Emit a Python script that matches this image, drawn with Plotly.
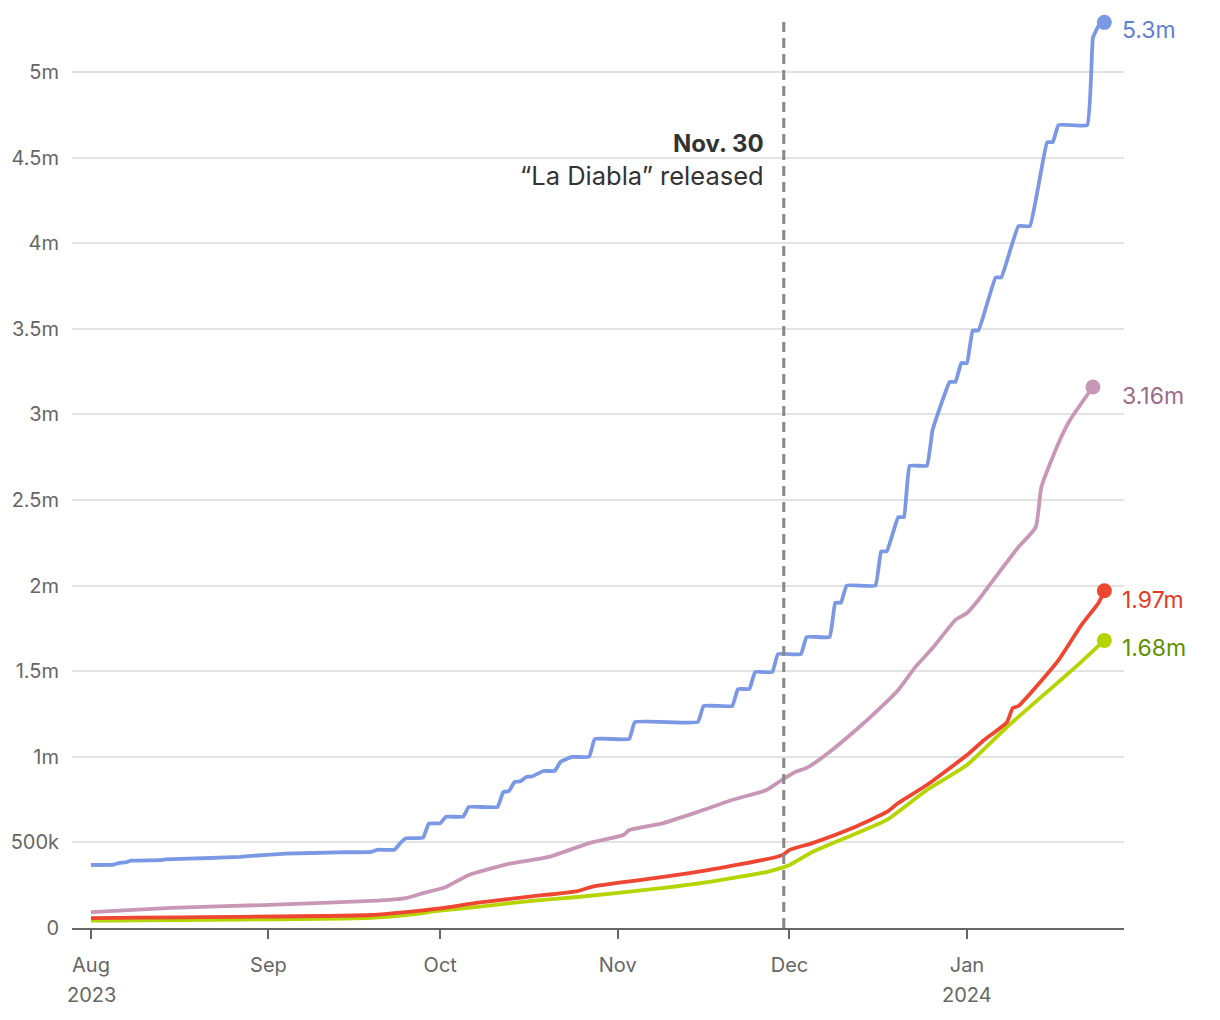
import plotly.graph_objects as go

# ---------------- data ----------------
blue_dates = ["2023-08-01","2023-08-05","2023-08-06","2023-08-07","2023-08-08","2023-08-13","2023-08-14",
              "2023-08-22","2023-08-27","2023-08-31","2023-09-04","2023-09-13","2023-09-19","2023-09-20",
              "2023-09-23","2023-09-24","2023-09-25","2023-09-28","2023-09-29","2023-10-01","2023-10-02",
              "2023-10-05","2023-10-06","2023-10-11","2023-10-12","2023-10-13","2023-10-14","2023-10-15",
              "2023-10-16","2023-10-17","2023-10-19","2023-10-21","2023-10-22","2023-10-24","2023-10-27",
              "2023-10-28","2023-11-03","2023-11-04","2023-11-15","2023-11-16","2023-11-21","2023-11-22",
              "2023-11-24","2023-11-25","2023-11-28","2023-11-29","2023-12-03","2023-12-04","2023-12-08",
              "2023-12-09","2023-12-10","2023-12-11","2023-12-16","2023-12-17","2023-12-18","2023-12-20",
              "2023-12-21","2023-12-22","2023-12-25","2023-12-26","2023-12-29","2023-12-30","2023-12-31",
              "2024-01-01","2024-01-02","2024-01-03","2024-01-06","2024-01-07","2024-01-10","2024-01-12",
              "2024-01-15","2024-01-16","2024-01-17","2024-01-22","2024-01-23","2024-01-24","2024-01-25"]
blue_values = [368000,370000,381000,383000,393000,396000,401000,409000,416000,426000,434000,442000,445000,
               457000,457000,495000,524000,527000,610000,612000,650000,650000,707000,707000,794000,800000,
               853000,857000,882000,885000,917000,918000,970000,999000,1000000,1104000,1104000,1203000,
               1203000,1297000,1297000,1396000,1396000,1495000,1495000,1600000,1600000,1700000,1700000,
               1900000,1900000,2000000,2000000,2200000,2200000,2400000,2400000,2700000,2700000,2910000,
               3190000,3190000,3300000,3300000,3490000,3490000,3800000,3800000,4100000,4100000,4590000,
               4590000,4690000,4690000,5200000,5270000,5290000]

pink_dates = ["2023-08-01","2023-08-15","2023-08-31","2023-09-19","2023-09-25","2023-09-28","2023-10-02",
              "2023-10-06","2023-10-13","2023-10-20","2023-10-27","2023-11-02","2023-11-03","2023-11-09",
              "2023-11-15","2023-11-21","2023-11-27","2023-11-29","2023-12-02","2023-12-04","2023-12-08",
              "2023-12-13","2023-12-17","2023-12-20","2023-12-23","2023-12-26","2023-12-30","2024-01-01",
              "2024-01-03","2024-01-06","2024-01-10","2024-01-13","2024-01-14","2024-01-17","2024-01-19",
              "2024-01-23"]
pink_values = [93000,117000,134000,158000,175000,204000,240000,310000,375000,415000,496000,543000,572000,
               613000,678000,748000,806000,850000,911000,935000,1028000,1168000,1290000,1390000,1525000,
               1635000,1800000,1840000,1916000,2050000,2225000,2340000,2576000,2833000,2967000,3160000]

red_dates = ["2023-08-01","2023-09-19","2023-09-25","2023-10-01","2023-10-08","2023-10-17","2023-10-25",
             "2023-10-28","2023-11-09","2023-11-17","2023-11-28","2023-11-30","2023-12-01","2023-12-05",
             "2023-12-12","2023-12-18","2023-12-20","2023-12-25","2024-01-01","2024-01-04","2024-01-08",
             "2024-01-09","2024-01-10","2024-01-17","2024-01-21","2024-01-24","2024-01-25"]
red_values = [58000,76000,93000,115000,150000,185000,216000,245000,298000,339000,409000,430000,456000,
              496000,584000,678000,730000,835000,1010000,1098000,1203000,1285000,1297000,1565000,1770000,
              1900000,1970000]

green_dates = ["2023-08-01","2023-09-19","2023-09-25","2023-10-01","2023-10-08","2023-10-17","2023-10-25",
               "2023-11-09","2023-11-17","2023-11-27","2023-11-29","2023-12-01","2023-12-05","2023-12-12",
               "2023-12-18","2023-12-25","2024-01-01","2024-01-08","2024-01-15","2024-01-20","2024-01-25"]
green_values = [43000,60000,76000,101000,125000,159000,181000,234000,269000,327000,345000,368000,444000,
                543000,631000,806000,952000,1174000,1379000,1525000,1680000]

end_labels = ["5.3m", "3.16m", "1.97m", "1.68m"]

x_tick_vals = ["2023-08-01","2023-09-01","2023-10-01","2023-11-01","2023-12-01","2024-01-01"]
x_tick_text = ["Aug","Sep","Oct","Nov","Dec","Jan"]
year_dates = ["2023-08-01", "2024-01-01"]
year_text = ["2023", "2024"]
y_tick_vals = [0,500000,1000000,1500000,2000000,2500000,3000000,3500000,4000000,4500000,5000000]
y_tick_text = ["0","500k","1m","1.5m","2m","2.5m","3m","3.5m","4m","4.5m","5m"]

release_date = "2023-11-30"
release_title = "Nov. 30"
release_sub = "“La Diabla” released"

# ---------------- styles ----------------
FONT = "Inter"
series = [
    (blue_dates, blue_values, "#7b98e4", "#5f7fd6", end_labels[0], 16, -8, 0.3),
    (pink_dates, pink_values, "#c997b6", "#9b6b8a", end_labels[1], 27, -9, 0.5),
    (red_dates, red_values, "#ee4630", "#e33a25", end_labels[2], 16, -9, 0.5),
    (green_dates, green_values, "#b5d400", "#5f8f00", end_labels[3], 16, -8, 0.5),
]
draw_order = [3, 2, 1, 0]

fig = go.Figure()
for i in draw_order:
    d, v, c, tc, lab, xs, ys, sm = series[i]
    fig.add_trace(go.Scatter(x=d, y=v, mode="lines",
                             line=dict(color=c, width=3.8, shape="spline", smoothing=sm),
                             hoverinfo="skip", showlegend=False, cliponaxis=False))
    fig.add_trace(go.Scatter(x=[d[-1]], y=[v[-1]], mode="markers",
                             marker=dict(color=c, size=15), hoverinfo="skip",
                             showlegend=False, cliponaxis=False))

annotations = []
for d, v, c, tc, lab, xs, ys, sm in series:
    annotations.append(dict(x=d[-1], y=v[-1], text=lab, showarrow=False, xanchor="left",
                            yanchor="middle", xshift=xs, yshift=ys,
                            font=dict(family=FONT, size=23, color=tc)))

for yd, yt in zip(year_dates, year_text):
    annotations.append(dict(x=yd, y=0, text=yt, showarrow=False, xanchor="center",
                            yanchor="middle", yshift=-67,
                            font=dict(family=FONT, size=20, color="#666666")))

annotations.append(dict(x=release_date, y=4.585e6, text="<b>" + release_title + "</b>", showarrow=False,
                        xanchor="right", yanchor="middle", xshift=-18,
                        font=dict(family=FONT, size=24, color="#333333")))
annotations.append(dict(x=release_date, y=4.398e6, text=release_sub, showarrow=False,
                        xanchor="right", yanchor="middle", xshift=-18,
                        font=dict(family=FONT, size=25.5, color="#333333")))

fig.add_shape(type="line", xref="x", yref="y", x0=release_date, x1=release_date, y0=0, y1=5.3e6,
              line=dict(color="#888888", width=3, dash="10px,6px"), layer="above")

fig.update_layout(
    width=1212, height=1012,
    margin=dict(l=64, r=96, t=2, b=92),
    paper_bgcolor="white", plot_bgcolor="white",
    font=dict(family=FONT, size=20, color="#666666"),
    annotations=annotations,
    xaxis=dict(
        type="date",
        range=["2023-07-28 16:20", "2024-01-28 10:20"],
        tickvals=x_tick_vals, ticktext=x_tick_text,
        ticks="outside", ticklen=9, tickwidth=2, tickcolor="#666666",
        showline=True, linecolor="#666666", linewidth=2,
        showgrid=False, zeroline=False, ticklabelstandoff=9,
        tickfont=dict(family=FONT, size=20, color="#666666"),
    ),
    yaxis=dict(
        range=[0, 5.362e6],
        tickvals=y_tick_vals, ticktext=y_tick_text,
        showgrid=True, gridcolor="#e3e3e3", gridwidth=1.5,
        zeroline=False, showline=False, ticks="",
        ticklabelstandoff=12,
        tickfont=dict(family=FONT, size=20, color="#666666"),
    ),
)

fig.write_html("out.html")
